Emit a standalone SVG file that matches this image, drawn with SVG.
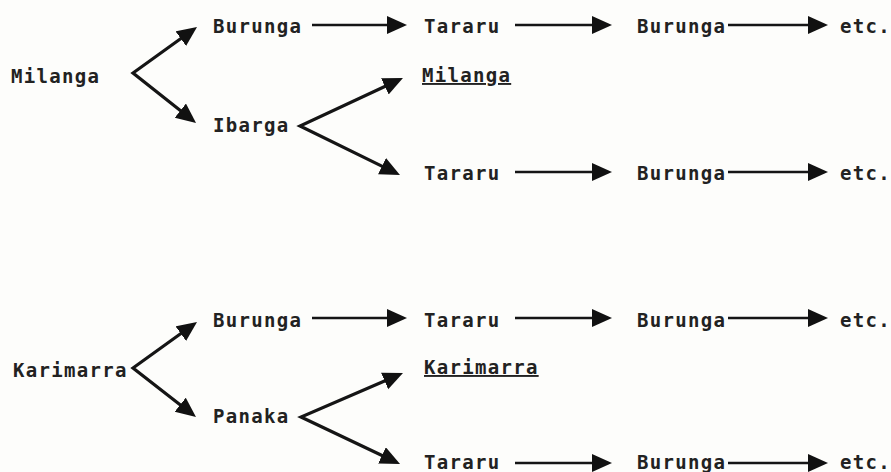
<svg xmlns="http://www.w3.org/2000/svg" width="891" height="472" viewBox="0 0 891 472">
<style>
text{font-family:"DejaVu Sans Mono","Liberation Mono",monospace;font-size:19px;font-weight:bold;letter-spacing:1.3px;fill:#222}
.u{text-decoration:underline}
.h{stroke:#151515;stroke-width:2.5;fill:none;marker-end:url(#ah)}
.d{stroke:#151515;stroke-width:3.2;fill:none;stroke-linejoin:miter;stroke-miterlimit:10;marker-start:url(#as);marker-end:url(#ah)}
</style>
<defs>
<marker id="ah" markerUnits="userSpaceOnUse" markerWidth="22" markerHeight="20" refX="10" refY="9" orient="auto"><path d="M0,0 L20,9 L0,18 Z" fill="#111"/></marker>
<marker id="as" markerUnits="userSpaceOnUse" markerWidth="22" markerHeight="20" refX="10" refY="9" orient="auto-start-reverse"><path d="M0,0 L20,9 L0,18 Z" fill="#111"/></marker>
</defs>
<rect width="891" height="472" fill="#fdfdfb"/>
<g id="connectors">
<path class="d" d="M188.9,32.8 L133,73 L188.2,116.8"/>
<path class="d" d="M393.9,82.2 L300,126 L391,170.6"/>
<path class="d" d="M188.9,327.8 L133,368 L188.1,410.9"/>
<path class="d" d="M393.8,377 L301,417 L391,459.7"/>
<line class="h" x1="312" y1="25" x2="397" y2="25"/>
<line class="h" x1="515" y1="25" x2="602" y2="25"/>
<line class="h" x1="728" y1="25" x2="818" y2="25"/>
<line class="h" x1="515" y1="172" x2="602" y2="172"/>
<line class="h" x1="728" y1="172" x2="818" y2="172"/>
<line class="h" x1="312" y1="318" x2="397" y2="318"/>
<line class="h" x1="515" y1="318" x2="602" y2="318"/>
<line class="h" x1="728" y1="318" x2="818" y2="318"/>
<line class="h" x1="515" y1="463" x2="602" y2="463"/>
<line class="h" x1="728" y1="463" x2="818" y2="463"/>
</g>
<g id="n-milanga"><text x="11" y="83">Milanga</text></g>
<g id="n-burunga1"><text x="213" y="33">Burunga</text></g>
<g id="n-ibarga"><text x="213" y="132">Ibarga</text></g>
<g id="n-tararu1"><text x="424" y="33">Tararu</text></g>
<g id="n-burunga2"><text x="637" y="33">Burunga</text></g>
<g id="n-etc1"><text x="840" y="33">etc.</text></g>
<g id="n-milanga-u"><text class="u" x="422" y="82">Milanga</text></g>
<g id="n-tararu2"><text x="424" y="180">Tararu</text></g>
<g id="n-burunga3"><text x="637" y="180">Burunga</text></g>
<g id="n-etc2"><text x="840" y="180">etc.</text></g>
<g id="n-karimarra"><text x="13" y="377">Karimarra</text></g>
<g id="n-burunga4"><text x="213" y="327">Burunga</text></g>
<g id="n-panaka"><text x="213" y="423">Panaka</text></g>
<g id="n-tararu3"><text x="424" y="327">Tararu</text></g>
<g id="n-burunga5"><text x="637" y="327">Burunga</text></g>
<g id="n-etc3"><text x="840" y="327">etc.</text></g>
<g id="n-karimarra-u"><text class="u" x="424" y="374">Karimarra</text></g>
<g id="n-tararu4"><text x="424" y="469">Tararu</text></g>
<g id="n-burunga6"><text x="637" y="469">Burunga</text></g>
<g id="n-etc4"><text x="840" y="469">etc.</text></g>
</svg>
